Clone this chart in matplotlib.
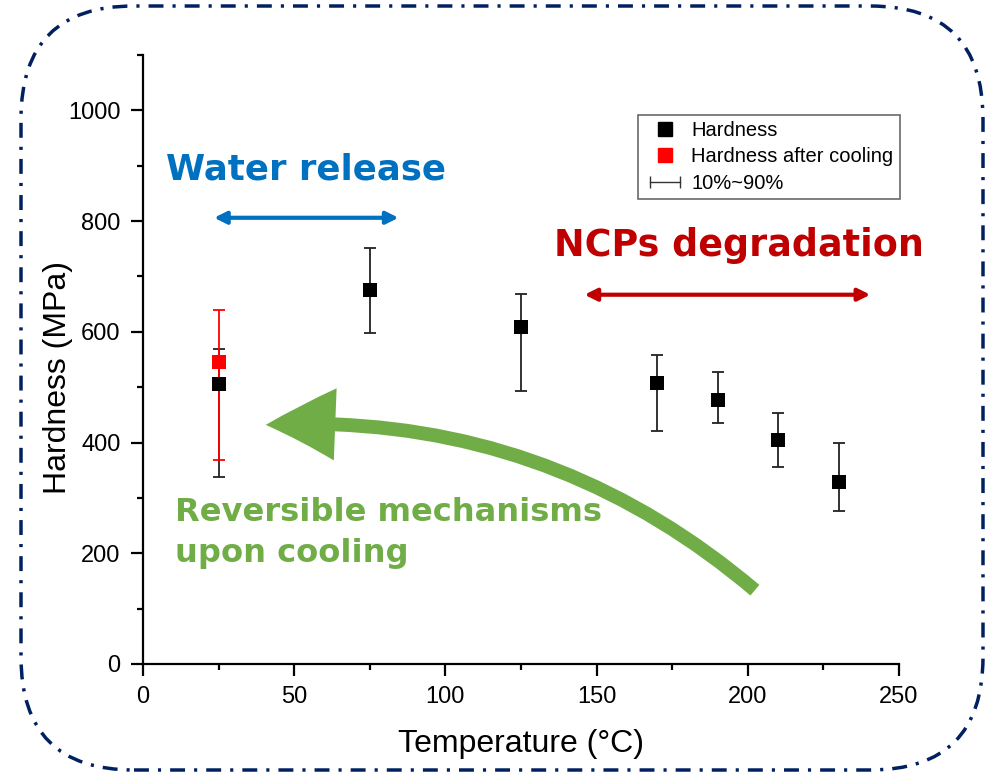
import matplotlib
matplotlib.use("Agg")
import matplotlib.pyplot as plt
from matplotlib.patches import FancyBboxPatch, FancyArrowPatch
from matplotlib.lines import Line2D
from matplotlib.legend_handler import HandlerLine2D
from matplotlib.ticker import MultipleLocator
from matplotlib.transforms import IdentityTransform

plt.rcParams['font.family'] = ['Liberation Sans', 'DejaVu Sans']

# Data
temps = [25, 75, 125, 170, 190, 210, 230]
hardness = [505, 676, 609, 508, 476, 405, 328]
hard_hi = [569, 752, 668, 559, 528, 453, 400]
hard_lo = [337, 598, 494, 421, 435, 356, 277]

cool_temp = [25]
cool_hard = [545]
cool_hi = [639]
cool_lo = [368]

W, H = 989, 774
fig = plt.figure(figsize=(W / 100, H / 100), dpi=100)
ax = fig.add_axes([143 / W, 1 - 664 / H, (899 - 143) / W, (664 - 55) / H])

def px(x, y):
    return (x / W, 1 - y / H)

# error bars
yerr = [[h - l for h, l in zip(hardness, hard_lo)], [u - h for h, u in zip(hardness, hard_hi)]]
ax.errorbar(temps, hardness, yerr=yerr, fmt='none', ecolor='#222222', elinewidth=1.3,
            capsize=4.6, capthick=1.3, zorder=2)
ax.scatter(temps, hardness, marker='s', s=95, color='black', zorder=4, linewidths=0)
yerr_c = [[c - l for c, l in zip(cool_hard, cool_lo)], [u - c for c, u in zip(cool_hard, cool_hi)]]
ax.errorbar(cool_temp, cool_hard, yerr=yerr_c, fmt='none', ecolor='red', elinewidth=1.3,
            capsize=4.6, capthick=1.3, zorder=3)
ax.scatter(cool_temp, cool_hard, marker='s', s=95, color='red', zorder=5, linewidths=0)

ax.set_xlim(0, 250)
ax.set_ylim(0, 1100)
ax.set_xticks([0, 50, 100, 150, 200, 250])
ax.set_yticks([0, 200, 400, 600, 800, 1000])
ax.xaxis.set_minor_locator(MultipleLocator(25))
ax.yaxis.set_minor_locator(MultipleLocator(100))
for s in ['top', 'right']:
    ax.spines[s].set_visible(False)
for s in ['left', 'bottom']:
    ax.spines[s].set_linewidth(1.6)
ax.tick_params(which='major', direction='out', length=8.6, width=1.6, labelsize=17, pad=7.5)
ax.tick_params(which='minor', direction='out', length=4.3, width=1.6)
ax.set_xlabel('Temperature (°C)', fontsize=23, va='center')
ax.set_ylabel('Hardness (MPa)', fontsize=23, va='center')
ax.xaxis.set_label_coords(0.5, (664 - 744) / 609)
ax.yaxis.set_label_coords((58 - 143) / 756, (664 - 378) / 609)

# Legend
h1 = Line2D([], [], marker='s', color='black', linestyle='none', markersize=10)
h2 = Line2D([], [], marker='s', color='red', linestyle='none', markersize=10)
h3 = Line2D([0, 1], [0, 0], marker='|', color='#333333', lw=1, markersize=8)
leg = fig.legend([h1, h2, h3], ['Hardness', 'Hardness after cooling', '10%~90%'],
                 loc='upper left', bbox_to_anchor=px(638, 115), fontsize=14.5,
                 frameon=True, fancybox=False, edgecolor='#444444', borderpad=0.3,
                 labelspacing=0.37, handlelength=2.1, handletextpad=0.25, borderaxespad=0,
                 handler_map={h3: HandlerLine2D(numpoints=2)})
leg.get_frame().set_linewidth(1.2)

# Annotations
tf = dict(fontfamily='DejaVu Sans', fontweight='bold')
fig.text(*px(306, 170), 'Water release', color='#0070C0', fontsize=25.6, ha='center', va='center', **tf)
fig.text(*px(739, 246), 'NCPs degradation', color='#C00000', fontsize=26.3, ha='center', va='center', **tf)
fig.text(*px(175, 533), 'Reversible mechanisms\nupon cooling', color='#70AD47', fontsize=23.1,
         ha='left', va='center', linespacing=1.42, **tf)

ax.annotate('', xy=(23.5, 806), xytext=(84.5, 806),
            arrowprops=dict(arrowstyle='<|-|>', color='#0070C0', lw=3, mutation_scale=18, shrinkA=0, shrinkB=0))
ax.annotate('', xy=(146, 667), xytext=(240.5, 667),
            arrowprops=dict(arrowstyle='<|-|>', color='#C00000', lw=3, mutation_scale=18, shrinkA=0, shrinkB=0))

green = FancyArrowPatch(px(757, 592), px(263, 425), transform=fig.transFigure,
                        connectionstyle='arc3,rad=0.2',
                        arrowstyle='simple,head_width=52,head_length=50,tail_width=10',
                        color='#70AD47', lw=0, zorder=6)
fig.patches.append(green)

# Border (pixel coordinates, origin bottom-left)
bx0, bx1 = 21, 983
by0, by1 = H - 770, H - 6
border = FancyBboxPatch((bx0, by0), bx1 - bx0, by1 - by0,
                        boxstyle='round,pad=0,rounding_size=113', transform=IdentityTransform(),
                        fill=False, edgecolor='#002060', lw=2.5,
                        linestyle=(0, (4.3, 2.6, 0.9, 2.6)))
fig.patches.append(border)

fig.savefig('out.png', dpi=100)
